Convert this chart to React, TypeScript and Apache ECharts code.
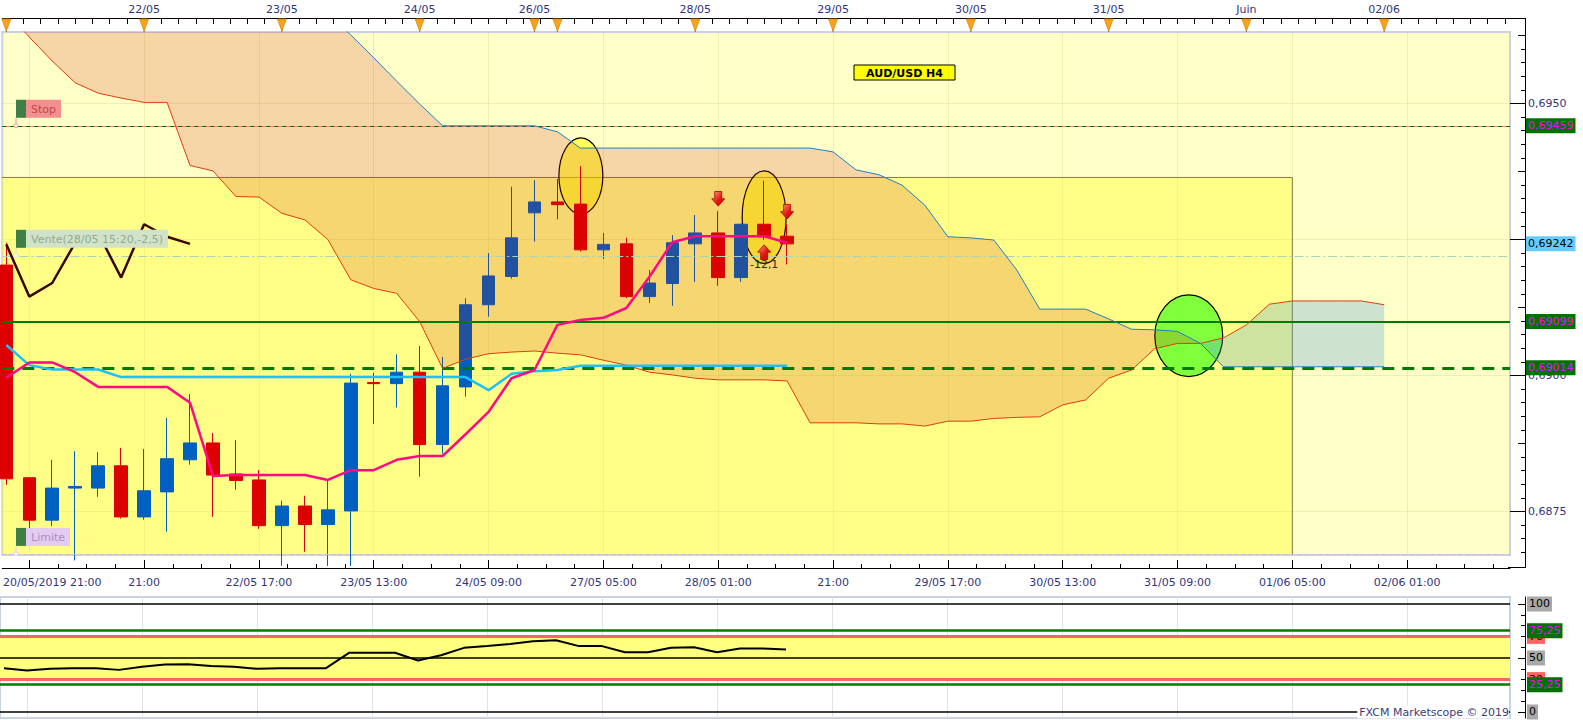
import React, { useEffect, useRef } from 'react';
import * as echarts from 'echarts';

// ---------------- data ----------------
const opens = [0.69203, 0.68812, 0.68734, 0.68793, 0.68793, 0.68834, 0.68740, 0.68786, 0.68845, 0.68876, 0.68819, 0.68808, 0.68724, 0.68760, 0.68726, 0.68751, 0.68987, 0.68985, 0.69006, 0.68873, 0.68979, 0.69130, 0.69182, 0.69299, 0.69319, 0.69315, 0.69231, 0.69242, 0.69145, 0.69169, 0.69242, 0.69262, 0.69180, 0.69278, 0.69256];
const highs = [0.69244, 0.68813, 0.68845, 0.68861, 0.68859, 0.68867, 0.68865, 0.68922, 0.68966, 0.68894, 0.68881, 0.68826, 0.68770, 0.68779, 0.68808, 0.69003, 0.69005, 0.69039, 0.69054, 0.69034, 0.69142, 0.69225, 0.69347, 0.69359, 0.69361, 0.69385, 0.69262, 0.69253, 0.69194, 0.69258, 0.69295, 0.69302, 0.69279, 0.69358, 0.69278];
const lows = [0.68799, 0.68718, 0.68723, 0.68660, 0.68777, 0.68737, 0.68735, 0.68713, 0.68836, 0.68740, 0.68790, 0.68718, 0.68650, 0.68676, 0.68650, 0.68650, 0.68911, 0.68941, 0.68814, 0.68856, 0.68961, 0.69108, 0.69178, 0.69246, 0.69287, 0.69228, 0.69214, 0.69142, 0.69133, 0.69128, 0.69172, 0.69165, 0.69172, 0.69249, 0.69204];
const closes = [0.68810, 0.68734, 0.68793, 0.68796, 0.68834, 0.68740, 0.68788, 0.68847, 0.68876, 0.68817, 0.68807, 0.68724, 0.68760, 0.68726, 0.68753, 0.68986, 0.68985, 0.69006, 0.68873, 0.68981, 0.69130, 0.69183, 0.69253, 0.69319, 0.69314, 0.69231, 0.69241, 0.69145, 0.69170, 0.69244, 0.69262, 0.69180, 0.69278, 0.69255, 0.69242];

const tenkan = [0.68996, 0.69024, 0.69024, 0.69006, 0.68979, 0.68979, 0.68979, 0.68979, 0.68950, 0.68815, 0.68817, 0.68817, 0.68817, 0.68817, 0.68808, 0.68826, 0.68826, 0.68845, 0.68852, 0.68852, 0.68892, 0.68933, 0.68995, 0.69010, 0.69093, 0.69102, 0.69106, 0.69124, 0.69181, 0.69245, 0.69256, 0.69256, 0.69256, 0.69256, 0.69244];
const kijun = [0.69056, 0.69019, 0.69011, 0.69011, 0.69011, 0.68997, 0.68997, 0.68997, 0.68997, 0.68997, 0.68997, 0.68997, 0.68997, 0.68997, 0.68997, 0.68997, 0.68997, 0.68997, 0.68997, 0.68997, 0.68997, 0.68973, 0.69003, 0.69008, 0.69010, 0.69018, 0.69018, 0.69018, 0.69018, 0.69018, 0.69018, 0.69018, 0.69018, 0.69018, 0.69018];
const spanA = [0.69668, 0.69622, 0.69578, 0.69538, 0.69519, 0.69510, 0.69502, 0.69502, 0.69386, 0.69376,
  0.69329, 0.69328, 0.69298, 0.69286, 0.69250, 0.69176, 0.69160, 0.69151, 0.69099, 0.69013,
  0.69030, 0.69040, 0.69043, 0.69045, 0.69041, 0.69038, 0.69028, 0.69019, 0.69006, 0.69001,
  0.68995, 0.68992, 0.68992, 0.68992, 0.68990, 0.68913, 0.68913, 0.68913, 0.68911, 0.68911,
  0.68907, 0.68916, 0.68916, 0.68921, 0.68923, 0.68924, 0.68946, 0.68955, 0.68995, 0.69010,
  0.69049, 0.69059, 0.69059, 0.69069, 0.69093, 0.69131, 0.69137, 0.69137, 0.69137, 0.69137,
  0.69130];
const spanB = [0.69700, 0.69700, 0.69700, 0.69700, 0.69700, 0.69700, 0.69700, 0.69700, 0.69700, 0.69700,
  0.69700, 0.69700, 0.69700, 0.69700, 0.69665, 0.69626, 0.69584, 0.69541, 0.69499, 0.69459,
  0.69459, 0.69459, 0.69459, 0.69459, 0.69448, 0.69418, 0.69418, 0.69418, 0.69418, 0.69418,
  0.69418, 0.69418, 0.69418, 0.69418, 0.69418, 0.69418, 0.69411, 0.69378, 0.69369, 0.69350,
  0.69313, 0.69255, 0.69253, 0.69249, 0.69194, 0.69122, 0.69122, 0.69122, 0.69104, 0.69085,
  0.69084, 0.69081, 0.69059, 0.69016, 0.69016, 0.69016, 0.69016, 0.69016, 0.69016, 0.69016,
  0.69016];
const chikouShift = 26;

const oscillator = [40.5, 38.5, 40, 40.6, 40.6, 39, 41.8, 44, 44.3, 42.5, 42, 40, 40.6, 40.6, 40.6, 54.8, 54.8, 54.8, 47.7, 52.5, 59.4, 61, 63, 65.5, 66.5, 61, 61, 55.4, 55.4, 59.5, 60, 55.4, 58.8, 58.8, 57.8];

const bottomLabelIdx = [0, 6, 11, 16, 21, 26, 31, 36, 41, 46, 51, 56, 61];
const bottomLabels = ['20/05/2019 21:00', '21:00', '22/05 17:00', '23/05 13:00', '24/05 09:00', '27/05 05:00', '28/05 01:00', '21:00', '29/05 17:00', '30/05 13:00', '31/05 09:00', '01/06 05:00', '02/06 01:00'];
const bottomMajorIdx = [1, 6, 11, 16, 21, 26, 31, 36, 41, 46, 51, 56, 61];
const topLabelIdx = [6, 12, 18, 23, 30, 36, 42, 48, 54, 60];
const topLabels = ['22/05', '23/05', '24/05', '26/05', '28/05', '29/05', '30/05', '31/05', 'Juin', '02/06'];
const dayStartIdx = [0, 6, 12, 18, 23, 24, 30, 36, 42, 48, 54, 60];
const priceLabelValues = [0.6875, 0.69, 0.695];
const priceMajorTicks = [0.6875, 0.69, 0.6925, 0.695];

const stopPrice = 0.69459;
const ventePrice = 0.6922;
const limitPrice = 0.68672;
const resistancePrice = 0.69099;
const supportPrice = 0.69014;
const lastPrice = 0.69242;
const orderPrices = [stopPrice, ventePrice, limitPrice];
const orderLabels = ['Stop', 'Vente(28/05 15:20,-2,5)', 'Limite'];

const zoneTopPrice = 0.69364;
const zoneEndIdx = 56;

const ellipseIdx = [25.02, 33.0, 51.49];
const ellipsePrice = [0.69367, 0.69291, 0.69073];
const ellipseHalfBars = [0.957, 0.957, 1.478];
const ellipseHalfPrice = [0.000699, 0.000851, 0.00075];

const arrowIdx = [31, 34, 33];
const arrowPrice = [0.693248, 0.693011, 0.692267];
const arrowDir = [-1, -1, 1];
const resultIdx = 33;
const resultPrice = 0.692031;
const resultText = '-12,1';

const oscLevelValues = [70, 30, 100, 50, 0, 75.25, 25.25];

// ---------------- layout constants ----------------
const X_MIN = -0.174;
const X_MAX = 65.478;
const Y_MIN = 0.6867;
const Y_MAX = 0.696314;
const OSC_MIN = -5.56;
const OSC_MAX = 106.48;
const FONT = '"DejaVu Sans", Verdana, sans-serif';
const AXIS_TEXT = '#34347c';
const BEAR = 'rgba(200,14,0,0.17)';
const BULL = 'rgba(70,150,225,0.27)';

function stepValues(from: number, to: number, step: number) {
  const out: number[] = [];
  for (let v = from; v <= to + 1e-9; v += step) out.push(+v.toFixed(6));
  return out;
}
const fmt = (v: number, d: number) => v.toFixed(d).replace('.', ',');

function buildOption() {
  const xBase = { type: 'value', min: X_MIN, max: X_MAX };
  const priceLabel = (v: number, bg: string, fg: string) => ({
    show: true, position: 'end', distance: 16, formatter: fmt(v, 5),
    backgroundColor: bg, color: fg, fontFamily: FONT, fontSize: 11, lineHeight: 13, padding: [1, 2, 1, 2],
  });
  const oscLabel = (v: number) => {
    const isGreen = v === 75.25 || v === 25.25;
    const isRed = v === 70 || v === 30;
    return {
      show: true, position: 'end', distance: 17,
      formatter: isGreen ? fmt(v, 2) : String(v),
      backgroundColor: isGreen ? '#007000' : isRed ? '#ff6464' : '#a8a8a8',
      color: isGreen ? '#ff00ff' : '#000',
      fontFamily: FONT, fontSize: 11, lineHeight: 13, padding: [1, 2, 1, 2],
    };
  };
  const oscLine = (v: number) => {
    if (v === 75.25 || v === 25.25) return { color: '#007a00', width: 2.5, type: 'solid' };
    if (v === 70 || v === 30) return { color: '#ff6464', width: 3, type: 'solid' };
    return { color: '#000', width: 1.5, type: 'solid' };
  };

  return {
    animation: false,
    textStyle: { fontFamily: FONT },
    grid: [
      { left: 0, right: 73, top: 32, bottom: 165, show: true, backgroundColor: '#ffffc8', borderColor: '#c8d2e0', borderWidth: 2 },
      { left: 0, right: 73, top: 597, bottom: 2, show: true, backgroundColor: '#ffffff', borderColor: '#c8d2e0', borderWidth: 2 },
    ],
    xAxis: [
      {
        ...xBase, gridIndex: 0, position: 'bottom', offset: 13,
        axisLine: { show: true, onZero: false, lineStyle: { color: '#000', width: 1 } },
        axisTick: { show: true, inside: true, length: 8, customValues: bottomMajorIdx, lineStyle: { color: '#000' } },
        axisLabel: {
          show: true, customValues: bottomLabelIdx, color: AXIS_TEXT, fontFamily: FONT, fontSize: 11, margin: 9,
          formatter: (v: number) => {
            const k = bottomLabelIdx.findIndex((x) => Math.abs(x - v) < 1e-6);
            if (k < 0) return '';
            return k === 0 ? '{first|' + bottomLabels[k] + '}' : bottomLabels[k];
          },
          rich: { first: { padding: [0, 0, 0, 92], color: AXIS_TEXT, fontFamily: FONT, fontSize: 11 } },
        },
        splitLine: { show: true, lineStyle: { color: 'rgba(170,150,60,0.16)', width: 1 } },
      },
      {
        ...xBase, gridIndex: 0, position: 'bottom', offset: 13,
        axisLine: { show: false, onZero: false },
        axisTick: { show: true, inside: true, length: 4, customValues: stepValues(1, 65.25, 1.25), lineStyle: { color: '#000' } },
        axisLabel: { show: false }, splitLine: { show: false },
      },
      {
        ...xBase, gridIndex: 0, position: 'top', offset: 14,
        axisLine: { show: true, onZero: false, lineStyle: { color: '#000', width: 1 } },
        axisTick: { show: true, inside: true, length: 6, customValues: stepValues(0, 65.25, 0.75), lineStyle: { color: '#000' } },
        axisLabel: {
          show: true, customValues: topLabelIdx, color: AXIS_TEXT, fontFamily: FONT, fontSize: 11, margin: 3,
          formatter: (v: number) => {
            const k = topLabelIdx.findIndex((x) => Math.abs(x - v) < 1e-6);
            return k < 0 ? '' : topLabels[k];
          },
        },
        splitLine: { show: false },
      },
      {
        ...xBase, gridIndex: 1, position: 'bottom',
        axisLine: { show: false, onZero: false },
        axisTick: { show: false, customValues: bottomMajorIdx },
        axisLabel: { show: false },
        splitLine: { show: true, lineStyle: { color: '#e0e2e6', width: 1 } },
      },
    ],
    yAxis: [
      {
        type: 'value', gridIndex: 0, position: 'right', offset: 15, min: Y_MIN, max: Y_MAX,
        axisLine: { show: true, onZero: false, lineStyle: { color: '#000', width: 1 } },
        axisTick: { show: true, inside: true, length: 4, customValues: stepValues(0.68675, 0.69625, 0.00025), lineStyle: { color: '#000' } },
        axisLabel: { show: true, customValues: priceLabelValues, formatter: (v: number) => fmt(v, 4), color: AXIS_TEXT, fontFamily: FONT, fontSize: 11, margin: 3 },
        splitLine: { show: false },
      },
      {
        type: 'value', gridIndex: 0, position: 'right', offset: 15, min: Y_MIN, max: Y_MAX,
        axisLine: { show: false, onZero: false },
        axisTick: { show: true, inside: true, length: 7, customValues: stepValues(0.6875, 0.69625, 0.00125), lineStyle: { color: '#000' } },
        axisLabel: { show: false }, splitLine: { show: false },
      },
      {
        type: 'value', gridIndex: 0, position: 'right', offset: 15, min: Y_MIN, max: Y_MAX,
        axisLine: { show: false, onZero: false },
        axisTick: { show: true, inside: true, length: 15, customValues: priceMajorTicks, lineStyle: { color: '#000' } },
        axisLabel: { show: false },
        splitLine: { show: true, lineStyle: { color: 'rgba(170,150,60,0.16)', width: 1 } },
      },
      {
        type: 'value', gridIndex: 1, position: 'right', offset: 15, min: OSC_MIN, max: OSC_MAX,
        axisLine: { show: true, onZero: false, lineStyle: { color: '#000', width: 1 } },
        axisTick: { show: true, inside: true, length: 4, customValues: stepValues(0, 100, 10), lineStyle: { color: '#000' } },
        axisLabel: { show: false }, splitLine: { show: false },
      },
      {
        type: 'value', gridIndex: 1, position: 'right', offset: 15, min: OSC_MIN, max: OSC_MAX,
        axisLine: { show: false, onZero: false },
        axisTick: { show: true, inside: true, length: 7, customValues: [0, 50, 100], lineStyle: { color: '#000' } },
        axisLabel: { show: false }, splitLine: { show: false },
      },
    ],
    series: [
      {
        type: 'custom', xAxisIndex: 0, yAxisIndex: 0, z: 1, clip: true, silent: true,
        data: [[X_MIN - 1, zoneTopPrice, zoneEndIdx, Y_MIN - 0.001]],
        encode: { x: 0, y: 1 },
        renderItem: (params: any, api: any) => {
          const p0 = api.coord([api.value(0), api.value(1)]);
          const p1 = api.coord([api.value(2), api.value(3)]);
          return {
            type: 'rect',
            shape: { x: p0[0], y: p0[1], width: p1[0] - p0[0], height: p1[1] - p0[1] },
            style: { fill: 'rgba(255,255,0,0.32)', stroke: '#857a4a', lineWidth: 1 },
          };
        },
      },
      {
        type: 'custom', xAxisIndex: 0, yAxisIndex: 0, z: 2, clip: true, silent: true,
        data: ellipseIdx.map((x, k) => [x, ellipsePrice[k], ellipseHalfBars[k], ellipseHalfPrice[k]]),
        encode: { x: 0, y: 1 },
        renderItem: (params: any, api: any) => {
          const c = api.coord([api.value(0), api.value(1)]);
          const s = api.size([api.value(2), api.value(3)]);
          const green = params.dataIndex === 2;
          return {
            type: 'ellipse',
            shape: { cx: c[0], cy: c[1], rx: s[0], ry: s[1] },
            style: { fill: green ? 'rgba(110,255,50,0.88)' : 'rgba(255,255,0,0.55)', stroke: '#000', lineWidth: 1.2 },
          };
        },
      },
      {
        type: 'candlestick', xAxisIndex: 0, yAxisIndex: 0, z: 3, silent: true,
        data: opens.map((o, i) => [i, o, closes[i], lows[i], highs[i]]),
        encode: { x: 0, y: [1, 2, 3, 4] },
        barWidth: 13,
        itemStyle: { color: '#0060c0', color0: '#dd0000', borderColor: '#0060c0', borderColor0: '#dd0000', borderWidth: 1 },
      },
      {
        type: 'custom', xAxisIndex: 0, yAxisIndex: 0, z: 4, clip: true, silent: true,
        data: [[0, spanA[0]]],
        encode: { x: 0, y: 1 },
        renderItem: (params: any, api: any) => {
          const polys: any[] = [];
          let top: number[][] = [];
          let bot: number[][] = [];
          let cur = -1;
          const flush = () => {
            if (top.length > 1) {
              polys.push({ type: 'polygon', shape: { points: top.concat(bot.slice().reverse()) }, style: { fill: cur > 0 ? BULL : BEAR } });
            }
          };
          for (let i = 0; i < spanA.length; i++) {
            const d = spanA[i] - spanB[i];
            const s = d > 0 ? 1 : d < 0 ? -1 : 0;
            if (i === 0) {
              cur = s || -1;
              top = [api.coord([i, spanA[i]])];
              bot = [api.coord([i, spanB[i]])];
              continue;
            }
            if (s !== 0 && s !== cur) {
              const dPrev = spanA[i - 1] - spanB[i - 1];
              const t = dPrev === 0 ? 0 : dPrev / (dPrev - d);
              const pc = api.coord([i - 1 + t, spanA[i - 1] + t * (spanA[i] - spanA[i - 1])]);
              top.push(pc); bot.push(pc);
              flush();
              cur = s;
              top = [pc]; bot = [pc];
            }
            top.push(api.coord([i, spanA[i]]));
            bot.push(api.coord([i, spanB[i]]));
          }
          flush();
          return { type: 'group', children: polys };
        },
      },
      {
        type: 'line', xAxisIndex: 0, yAxisIndex: 0, z: 5, silent: true, showSymbol: false, symbol: 'none',
        data: spanA.map((v, i) => [i, v]), lineStyle: { color: '#e03c10', width: 1 },
      },
      {
        type: 'line', xAxisIndex: 0, yAxisIndex: 0, z: 5, silent: true, showSymbol: false, symbol: 'none',
        data: spanB.map((v, i) => [i, v]), lineStyle: { color: '#1a80c8', width: 1 },
      },
      {
        type: 'line', xAxisIndex: 0, yAxisIndex: 0, z: 6, silent: true, showSymbol: false, symbol: 'none',
        data: [[X_MIN - 5, lastPrice]],
        markLine: {
          silent: true, symbol: 'none', animation: false, precision: 6,
          data: [
            { yAxis: limitPrice, lineStyle: { color: '#d4b4ec', width: 1, type: [4, 3] }, label: { show: false } },
            { yAxis: ventePrice, lineStyle: { color: '#a8d4b8', width: 1, type: [9, 3, 2, 3] }, label: { show: false } },
            { yAxis: stopPrice, lineStyle: { color: '#ff7878', width: 1, type: 'solid' }, label: { show: false } },
            { yAxis: stopPrice, lineStyle: { color: '#006a00', width: 1, type: [4, 4] }, label: priceLabel(stopPrice, '#007000', '#ff00ff') },
            { yAxis: resistancePrice, lineStyle: { color: '#007a00', width: 2, type: 'solid' }, label: priceLabel(resistancePrice, '#007000', '#ff00ff') },
            { yAxis: supportPrice, lineStyle: { color: '#007a00', width: 3, type: [12, 8] }, label: priceLabel(supportPrice, '#007000', '#ff00ff') },
            { yAxis: lastPrice, lineStyle: { color: 'rgba(0,0,0,0)', width: 0 }, label: priceLabel(lastPrice, '#66ccff', '#000') },
          ],
        },
      },
      {
        type: 'line', xAxisIndex: 0, yAxisIndex: 0, z: 7, silent: true, showSymbol: false, symbol: 'none',
        data: kijun.map((v, i) => [i, v]), lineStyle: { color: '#1ec0f5', width: 2.5 },
      },
      {
        type: 'line', xAxisIndex: 0, yAxisIndex: 0, z: 7, silent: true, showSymbol: false, symbol: 'none',
        data: tenkan.map((v, i) => [i, v]), lineStyle: { color: '#ff0a84', width: 2.5 },
      },
      {
        type: 'line', xAxisIndex: 0, yAxisIndex: 0, z: 7, silent: true, showSymbol: false, symbol: 'none',
        data: closes.slice(chikouShift).map((v, k) => [k, v]), lineStyle: { color: '#3a0606', width: 2.5 },
      },
      {
        type: 'custom', xAxisIndex: 0, yAxisIndex: 0, z: 8, clip: true, silent: true,
        data: arrowIdx.map((x, k) => [x, arrowPrice[k], arrowDir[k]]),
        encode: { x: 0, y: 1 },
        renderItem: (params: any, api: any) => {
          const c = api.coord([api.value(0), api.value(1)]);
          const dir = api.value(2);
          const x = c[0];
          const y = c[1];
          const h = 7.3 * dir;
          const pts = [
            [x - 3.5, y + h], [x + 3.5, y + h], [x + 3.5, y], [x + 6.5, y], [x, y - h], [x - 6.5, y], [x - 3.5, y],
          ];
          return {
            type: 'polygon',
            shape: { points: pts },
            style: {
              fill: new echarts.graphic.LinearGradient(0, 0, 1, 1, [
                { offset: 0, color: '#ffa888' },
                { offset: 0.55, color: '#e21a10' },
                { offset: 1, color: '#b80000' },
              ]),
              stroke: '#a80000', lineWidth: 0.8,
            },
          };
        },
      },
      {
        type: 'custom', xAxisIndex: 0, yAxisIndex: 0, z: 8, clip: true, silent: true,
        data: [[resultIdx, resultPrice]],
        encode: { x: 0, y: 1 },
        renderItem: (params: any, api: any) => {
          const c = api.coord([api.value(0), api.value(1)]);
          return {
            type: 'text', x: c[0], y: c[1],
            style: { text: resultText, fill: '#2a2a2a', font: '11px ' + FONT, align: 'center', verticalAlign: 'middle' },
          };
        },
      },
      {
        type: 'custom', xAxisIndex: 0, yAxisIndex: 0, z: 9, clip: false, silent: true,
        data: orderPrices.map((p) => [0, p]),
        encode: { x: 0, y: 1 },
        renderItem: (params: any, api: any) => {
          const k = params.dataIndex;
          const y = api.coord([0, api.value(1)])[1];
          const bg = ['#f29090', '#d2e2c8', '#e4ccf0'][k];
          const fg = ['#c44848', '#8cac90', '#b08ccc'][k];
          return {
            type: 'group',
            children: [
              { type: 'line', shape: { x1: 16, y1: y - 8, x2: 16, y2: y }, style: { stroke: bg, lineWidth: 1 } },
              { type: 'circle', shape: { cx: 16, cy: y, r: 2 }, style: { fill: '#ffffff', stroke: bg, lineWidth: 1 } },
              {
                type: 'text', x: 26, y: y - 26,
                style: {
                  text: orderLabels[k], font: '11px ' + FONT, fill: fg, backgroundColor: bg,
                  padding: [3, 5, 2, 5], lineHeight: 13, verticalAlign: 'top', align: 'left',
                },
              },
              { type: 'rect', shape: { x: 16, y: y - 26, width: 10, height: 18 }, style: { fill: '#3d7f45' } },
            ],
          };
        },
      },
      {
        type: 'custom', xAxisIndex: 0, yAxisIndex: 0, z: 9, clip: false, silent: true,
        data: dayStartIdx.map((i) => [i, Y_MAX]),
        encode: { x: 0, y: 1 },
        renderItem: (params: any, api: any) => {
          const x = api.coord([api.value(0), api.value(1)])[0];
          const top = params.coordSys.y - 13;
          return {
            type: 'group',
            children: [
              { type: 'line', shape: { x1: x, y1: top, x2: x, y2: params.coordSys.y }, style: { stroke: '#8a6a30', lineWidth: 1 } },
              { type: 'polygon', shape: { points: [[x - 4.5, top], [x + 4.5, top], [x, top + 12]] }, style: { fill: '#f8a31e', stroke: '#e08a00', lineWidth: 0.8 } },
            ],
          };
        },
      },
      {
        type: 'custom', xAxisIndex: 3, yAxisIndex: 3, z: 1, clip: true, silent: true,
        data: [[X_MIN - 1, 70, X_MAX + 1, 30]],
        encode: { x: 0, y: 1 },
        renderItem: (params: any, api: any) => {
          const p0 = api.coord([api.value(0), api.value(1)]);
          const p1 = api.coord([api.value(2), api.value(3)]);
          return { type: 'rect', shape: { x: p0[0], y: p0[1], width: p1[0] - p0[0], height: p1[1] - p0[1] }, style: { fill: '#ffff80' } };
        },
      },
      {
        type: 'line', xAxisIndex: 3, yAxisIndex: 3, z: 4, silent: true, showSymbol: false, symbol: 'none',
        data: oscillator.map((v, i) => [i, v]), lineStyle: { color: '#000', width: 2 },
        markLine: {
          silent: true, symbol: 'none', animation: false, precision: 2,
          data: oscLevelValues.map((v) => ({ yAxis: v, lineStyle: oscLine(v), label: oscLabel(v) })),
        },
      },
    ],
    graphic: [
      {
        type: 'group', z: 100,
        children: [
          { type: 'rect', shape: { x: 854, y: 65, width: 101, height: 15 }, style: { fill: '#ffff00', stroke: '#000', lineWidth: 1 } },
          { type: 'text', x: 904.5, y: 73, style: { text: 'AUD/USD H4', font: 'bold 11px ' + FONT, fill: '#000', align: 'center', verticalAlign: 'middle' } },
        ],
      },
      {
        type: 'text', z: 100, x: 1509, y: 712,
        style: { text: 'FXCM Marketscope © 2019', font: '11px ' + FONT, fill: '#3c3c7c', align: 'right', verticalAlign: 'middle', backgroundColor: '#ffffff', padding: [1, 0, 1, 2] },
      },
      { type: 'line', z: 100, shape: { x1: 1525.5, y1: 18, x2: 1525.5, y2: 568 }, style: { stroke: '#000', lineWidth: 1 } },
      { type: 'line', z: 100, shape: { x1: 1508, y1: 18.5, x2: 1526, y2: 18.5 }, style: { stroke: '#000', lineWidth: 1 } },
      { type: 'line', z: 100, shape: { x1: 1508, y1: 567.5, x2: 1526, y2: 567.5 }, style: { stroke: '#000', lineWidth: 1 } },
    ],
  };
}

export default function App() {
  const ref = useRef<HTMLDivElement>(null);
  useEffect(() => {
    if (!ref.current) return;
    const chart = echarts.init(ref.current, null, { renderer: 'svg' });
    chart.setOption(buildOption() as any);
    return () => chart.dispose();
  }, []);
  return <div ref={ref} style={{ position: 'fixed', left: 0, top: 0, width: 1583, height: 720, background: '#ffffff' }} />;
}
